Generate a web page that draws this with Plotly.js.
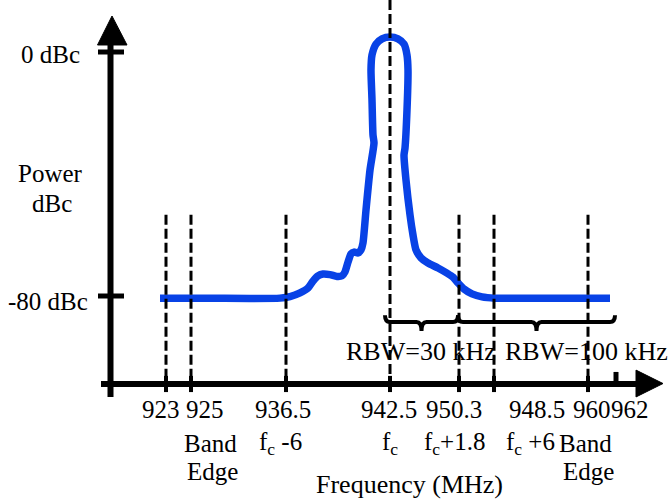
<!DOCTYPE html>
<html>
<head>
<meta charset="utf-8">
<script src="https://cdn.plot.ly/plotly-3.0.1.min.js"></script>
<style>html,body{margin:0;padding:0;background:#fff;}#chart{width:672px;height:499px;}</style>
</head>
<body>
<div id="chart"></div>
<script>
// Schematic frequency positions (arbitrary position units along the axis) and labels
const tickPos = [56, 81, 176, 280, 349, 384, 478, 506];
const tickLabels = ['923', '925', '936.5', '942.5', '950.3', '948.5', '960', '962'];
const tickLabelPos = [51, 95, 173, 279, 344, 427, 482, 520];
const subLabels = ['Band', 'f<sub>c</sub> -6', 'f<sub>c</sub>', 'f<sub>c</sub>+1.8', 'f<sub>c</sub> +6', 'Band'];
const subLabelPos = [100, 170, 280, 344, 420, 475];
const edgeLabels = ['Edge', 'Edge'];
const edgeLabelPos = [102, 478];
const dashedPos = [56, 81, 176, 280, 349, 384, 478];
const yTickVals = [0, -80];
const yTickText = ['0 dBc', '-80 dBc'];
const rbwLabels = ['RBW=30 kHz', 'RBW=100 kHz'];
const rbwSpans = [[275, 348], [348, 505]];

// Power spectrum curve (position units, dBc)
const curveX = [50, 90, 140, 170, 180, 190, 198, 203, 208, 213, 220, 227, 232, 235, 238, 241, 244, 248, 251, 253, 256, 260, 264, 263, 262, 261, 262, 266, 272, 280, 288, 294, 297, 298, 297, 295, 294, 296, 300, 303, 306, 311, 318, 328, 337, 343, 348, 354, 362, 372, 385, 440, 500];
const curveY = [-80.7, -80.7, -80.8, -80.7, -80.2, -79.0, -77.4, -75.1, -73.4, -72.8, -73.0, -73.6, -73.4, -72.1, -68.9, -66.2, -65.6, -65.9, -64.9, -62.6, -51.8, -38.7, -29.8, -27.2, -15.7, -5.9, -1.0, 2.6, 4.3, 4.9, 4.3, 2.6, -1.0, -5.9, -19.0, -31.5, -33.8, -42.0, -53.4, -60.0, -64.9, -67.5, -69.2, -70.8, -72.5, -73.8, -75.7, -77.7, -79.3, -80.3, -80.7, -80.7, -80.7];

const FONT = 'Liberation Serif, Times New Roman, serif';
const FS = 25;
const AXIS_Y = -108.85;   // position of the frequency axis in dBc units
const DASH_TOP = -53.4;
const TOP = 17.05;

const shapes = [];
// dashed verticals
dashedPos.forEach(function (p) {
  shapes.push({type: 'line', xref: 'x', yref: 'y', x0: p, x1: p,
    y0: p === 280 ? TOP : DASH_TOP, y1: AXIS_Y,
    line: {color: '#000', width: 3, dash: '10px,4px'}});
});
// x axis line
shapes.push({type: 'line', xref: 'x', yref: 'y', x0: -9, x1: 530, y0: AXIS_Y, y1: AXIS_Y,
  line: {color: '#000', width: 6}});
// x arrow head
shapes.push({type: 'path', xref: 'x', yref: 'y',
  path: 'M 526,-104.3 L 553,-108.7 L 526,-113.1 Z', fillcolor: '#000', line: {color: '#000', width: 1}});
// y axis line
shapes.push({type: 'line', xref: 'x', yref: 'y', x0: 0.5, x1: 0.5, y0: -113.1, y1: 2.3,
  line: {color: '#000', width: 6}});
// y arrow head
shapes.push({type: 'path', xref: 'x', yref: 'y',
  path: 'M -12.5,2.3 L 2,11.8 L 17,2.3 Z', fillcolor: '#000', line: {color: '#000', width: 1}});
// x tick marks
tickPos.forEach(function (p, i) {
  const last = i === tickPos.length - 1;
  shapes.push({type: 'line', xref: 'x', yref: 'y', x0: p, x1: p,
    y0: last ? -104.9 : -106.2, y1: last ? -109.5 : -111.5,
    line: {color: '#000', width: last ? 5 : 4}});
});
// y tick marks
yTickVals.forEach(function (v) {
  shapes.push({type: 'line', xref: 'x', yref: 'y', x0: -12, x1: 14, y0: v, y1: v,
    line: {color: '#000', width: 5}});
});
// curly braces
function brace(x0, x1) {
  const yb = -88.5, ye = -86.3, yt = -91.5, c = 5, m = (x0 + x1) / 2;
  return 'M ' + x0 + ',' + ye + ' Q ' + x0 + ',' + yb + ' ' + (x0 + c) + ',' + yb +
    ' L ' + (m - c) + ',' + yb + ' Q ' + m + ',' + yb + ' ' + m + ',' + yt +
    ' Q ' + m + ',' + yb + ' ' + (m + c) + ',' + yb +
    ' L ' + (x1 - c) + ',' + yb + ' Q ' + x1 + ',' + yb + ' ' + x1 + ',' + ye;
}
rbwSpans.forEach(function (s) {
  shapes.push({type: 'path', xref: 'x', yref: 'y', path: brace(s[0], s[1]),
    line: {color: '#000', width: 4}});
});

const annotations = [];
function txt(x, ypx, text, anchor, size) {
  annotations.push({xref: 'x', yref: 'paper', x: x, y: 1 - ypx / 499, text: text,
    showarrow: false, xanchor: anchor || 'center', yanchor: 'middle',
    font: {family: FONT, size: size || FS, color: '#000'}});
}
tickLabels.forEach(function (t, i) { txt(tickLabelPos[i], 409, t); });
subLabels.forEach(function (t, i) { txt(subLabelPos[i], 443, t); });
edgeLabels.forEach(function (t, i) { txt(edgeLabelPos[i], 471, t); });
txt(299, 484, 'Frequency (MHz)', 'center', 26);
txt(-28, 54, yTickText[0], 'right');
txt(-20, 301, yTickText[1], 'right');
txt(-60, 173, 'Power');
txt(-58, 204, 'dBc');
rbwSpans.forEach(function (s, i) { txt(i === 0 ? 311 : 476, 351, rbwLabels[i], 'center', 26); });

const trace = {x: curveX, y: curveY, type: 'scatter', mode: 'lines',
  line: {color: '#0842e6', width: 7.5, shape: 'spline', smoothing: 0.6},
  hoverinfo: 'skip'};

const layout = {
  width: 672, height: 499,
  margin: {l: 0, r: 0, t: 0, b: 0},
  paper_bgcolor: '#fff', plot_bgcolor: '#fff',
  showlegend: false,
  xaxis: {range: [-110, 562], visible: false, fixedrange: true},
  yaxis: {range: [-146.56, 17.05], visible: false, fixedrange: true},
  shapes: shapes,
  annotations: annotations
};

Plotly.newPlot('chart', [trace], layout, {displayModeBar: false, staticPlot: true});
</script>
</body>
</html>
